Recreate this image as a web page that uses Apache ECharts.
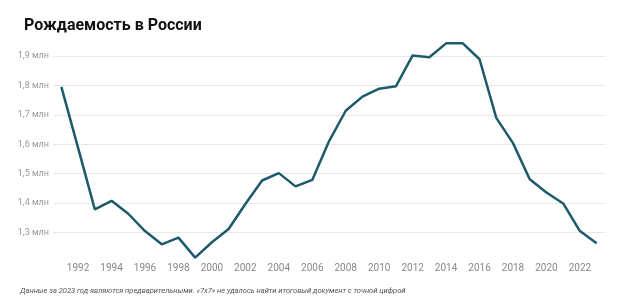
<!DOCTYPE html>
<html><head><meta charset="utf-8">
<script src="https://cdn.jsdelivr.net/npm/echarts@6/dist/echarts.min.js"></script>
<style>html,body{margin:0;padding:0;background:#fff}#c{width:620px;height:300px}</style>
</head><body><div id="c"></div>
<script>
const years = ['1991','1992','1993','1994','1995','1996','1997','1998','1999','2000','2001','2002','2003','2004','2005','2006','2007','2008','2009','2010','2011','2012','2013','2014','2015','2016','2017','2018','2019','2020','2021','2022','2023'];
const births = [1.795,1.588,1.379,1.408,1.364,1.305,1.260,1.283,1.215,1.267,1.312,1.397,1.477,1.502,1.457,1.479,1.610,1.714,1.762,1.789,1.797,1.902,1.896,1.943,1.943,1.889,1.690,1.604,1.481,1.436,1.399,1.305,1.264];
const titleText = 'Рождаемость в России';
const noteText = 'Данные за 2023 год являются предварительными. «7х7» не удалось найти итоговый документ с точной цифрой';

const chart = echarts.init(document.getElementById('c'), null, {renderer:'canvas'});
chart.setOption({
  animation:false,
  title:{text:titleText,left:19,top:13,textStyle:{fontFamily:'Roboto',fontWeight:'bold',fontSize:16,color:'#111'}},
  graphic:[{type:'text',left:20,top:287,style:{text:noteText,fontFamily:'Roboto',fontStyle:'italic',fontSize:7.5,fill:'#555'}}],
  grid:{left:53,right:15,top:26.6,bottom:38},
  xAxis:{type:'category',data:years,boundaryGap:true,
    axisLine:{show:false},axisTick:{show:false},
    axisLabel:{interval:(i,v)=>(+v)%2===0,color:'#888',fontFamily:'Roboto',fontSize:10,margin:1}},
  yAxis:{type:'value',min:1.2,max:2.0,interval:0.1,
    axisLine:{show:false},axisTick:{show:false},
    axisLabel:{showMinLabel:false,showMaxLabel:false,color:'#999',fontFamily:'Roboto',fontSize:9,margin:4,
      formatter:v=>v.toFixed(1).replace('.',',')+' млн'},
    splitLine:{showMinLine:false,showMaxLine:false,lineStyle:{color:'#e8e8e8',width:1}}},
  series:[{type:'line',data:births,symbol:'none',lineStyle:{color:'#1c5a6c',width:2.5}}]
});
</script></body></html>
